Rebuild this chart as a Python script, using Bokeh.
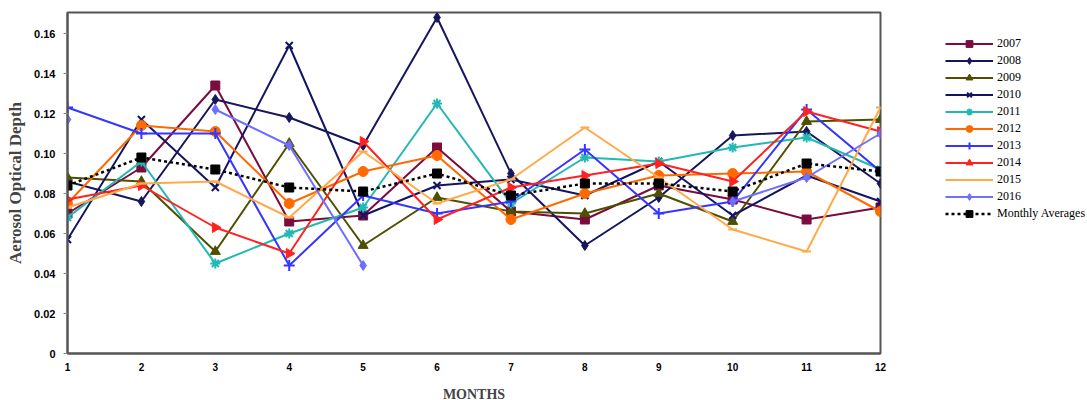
import math
from bokeh.plotting import figure
from bokeh.models import (ColumnDataSource, Legend, LegendItem, FixedTicker,
                          NumeralTickFormatter, Range1d)
from bokeh.embed import file_html
from bokeh.resources import INLINE

nan = float("nan")

months = [1, 2, 3, 4, 5, 6, 7, 8, 9, 10, 11, 12]
aod_2007 = [0.070, 0.093, 0.134, 0.066, 0.069, 0.103, 0.071, 0.067, 0.084, 0.077, 0.067, 0.073]
aod_2008 = [0.086, 0.076, 0.127, 0.118, 0.104, 0.168, 0.090, 0.054, 0.078, 0.109, 0.111, 0.085]
aod_2009 = [0.088, 0.086, 0.051, 0.105, 0.054, 0.078, 0.071, 0.070, 0.080, 0.066, 0.116, 0.117]
aod_2010 = [0.057, 0.117, 0.083, 0.154, 0.069, 0.084, 0.087, 0.079, 0.096, 0.069, 0.089, 0.076]
aod_2011 = [0.068, 0.096, 0.045, 0.060, 0.073, 0.125, 0.075, 0.098, 0.096, 0.103, 0.108, 0.092]
aod_2012 = [0.075, 0.114, 0.111, 0.075, 0.091, 0.099, 0.067, 0.080, 0.089, 0.090, 0.091, 0.071]
aod_2013 = [0.123, 0.110, 0.110, 0.044, 0.079, 0.070, 0.076, 0.102, 0.070, 0.076, 0.122, 0.091]
aod_2014 = [0.077, 0.084, 0.063, 0.050, 0.106, 0.067, 0.083, 0.089, 0.095, 0.086, 0.121, 0.111]
aod_2015 = [0.073, 0.085, 0.086, 0.068, 0.101, 0.075, 0.087, 0.113, 0.088, 0.062, 0.051, 0.123]
aod_2016 = [0.117, nan, 0.122, 0.104, 0.044, nan, nan, nan, nan, 0.076, 0.088, 0.110]
monthly_avg = [0.084, 0.098, 0.092, 0.083, 0.081, 0.090, 0.079, 0.085, 0.085, 0.081, 0.095, 0.091]

y_ticks = [0, 0.02, 0.04, 0.06, 0.08, 0.10, 0.12, 0.14, 0.16]

# label, values, colour, marker, marker size, marker angle
series = [
    ("2007", aod_2007, "#7a0c3e", "square", 9, 0),
    ("2008", aod_2008, "#16165c", "diamond", 10, 0),
    ("2009", aod_2009, "#4f4f00", "triangle", 10, 0),
    ("2010", aod_2010, "#141464", "x", 10, 0),
    ("2011", aod_2011, "#22b8b4", "asterisk", 10, 0),
    ("2012", aod_2012, "#ff6a00", "circle", 10, 0),
    ("2013", aod_2013, "#3535ff", "cross", 11, 0),
    ("2014", aod_2014, "#ff2222", "triangle", 10, -math.pi / 2),
    ("2015", aod_2015, "#ffaa48", "dash", 9, 0),
    ("2016", aod_2016, "#6e6eff", "diamond", 10, 0),
]

p = figure(frame_width=813, frame_height=341, output_backend="svg",
           toolbar_location=None,
           x_range=Range1d(1, 12), y_range=Range1d(0, 0.1705),
           min_border_left=67, min_border_right=207, min_border_top=12,
           min_border_bottom=47)
p.grid.visible = False
p.outline_line_color = "#555555"
p.outline_line_width = 2
p.background_fill_color = "white"
p.border_fill_color = "white"

items = []
for label, vals, color, marker, size, angle in series:
    src = ColumnDataSource(dict(x=months, y=vals))
    ln = p.line("x", "y", source=src, line_color=color, line_width=2)
    sc = p.scatter("x", "y", source=src, marker=marker, size=size, angle=angle,
                   fill_color=color, line_color=color,
                   line_width=2 if marker in ("x", "cross", "asterisk", "dash") else 1)
    items.append(LegendItem(label=label, renderers=[ln, sc]))

avg_src = ColumnDataSource(dict(x=months, y=monthly_avg))
avg_ln = p.line("x", "y", source=avg_src, line_color="black", line_width=2.5, line_dash="3 3")
avg_sc = p.scatter("x", "y", source=avg_src, marker="square", size=9,
                   fill_color="black", line_color="black")
items.append(LegendItem(label="Monthly Averages", renderers=[avg_ln, avg_sc]))

# axes
xa = p.xaxis[0]
xa.ticker = FixedTicker(ticks=months)
xa.major_tick_out = 0
xa.major_tick_in = 0
xa.minor_tick_out = 0
xa.minor_tick_in = 0
xa.axis_line_color = "#555555"
xa.axis_line_width = 2
xa.major_label_text_font = "Liberation Sans"
xa.major_label_text_font_style = "bold"
xa.major_label_text_font_size = "10px"
xa.major_label_text_color = "black"
xa.major_label_standoff = 9
xa.axis_label = "MONTHS"
xa.axis_label_text_font = "Liberation Serif"
xa.axis_label_text_font_style = "bold"
xa.axis_label_text_font_size = "14px"
xa.axis_label_standoff = 13

ya = p.yaxis[0]
ya.ticker = FixedTicker(ticks=y_ticks)
ya.formatter = NumeralTickFormatter(format="0.00")
ya.major_label_overrides = {0: "0"}
ya.major_tick_out = 4
ya.major_tick_in = 0
ya.minor_tick_out = 0
ya.minor_tick_in = 0
ya.major_tick_line_color = "#888888"
ya.axis_line_color = "#555555"
ya.axis_line_width = 2
ya.major_label_text_font = "Liberation Sans"
ya.major_label_text_font_style = "bold"
ya.major_label_text_font_size = "11px"
ya.major_label_text_color = "black"
ya.major_label_standoff = 8
ya.axis_label = "Aerosol Optical Depth"
ya.axis_label_text_font = "Liberation Serif"
ya.axis_label_text_font_style = "bold"
ya.axis_label_text_font_size = "17px"
ya.axis_label_standoff = 6

# legend in the right-hand panel, offset from the panel's lower-left corner
legend = Legend(items=items, location=(65, 131), margin=0, padding=0,
                glyph_width=48, glyph_height=17, label_height=17, spacing=0,
                label_standoff=4, border_line_color=None,
                background_fill_alpha=0,
                label_text_font="Liberation Serif", label_text_font_size="12px",
                label_text_color="black")
p.add_layout(legend, "right")

open("out.html", "w").write(file_html(p, INLINE))
